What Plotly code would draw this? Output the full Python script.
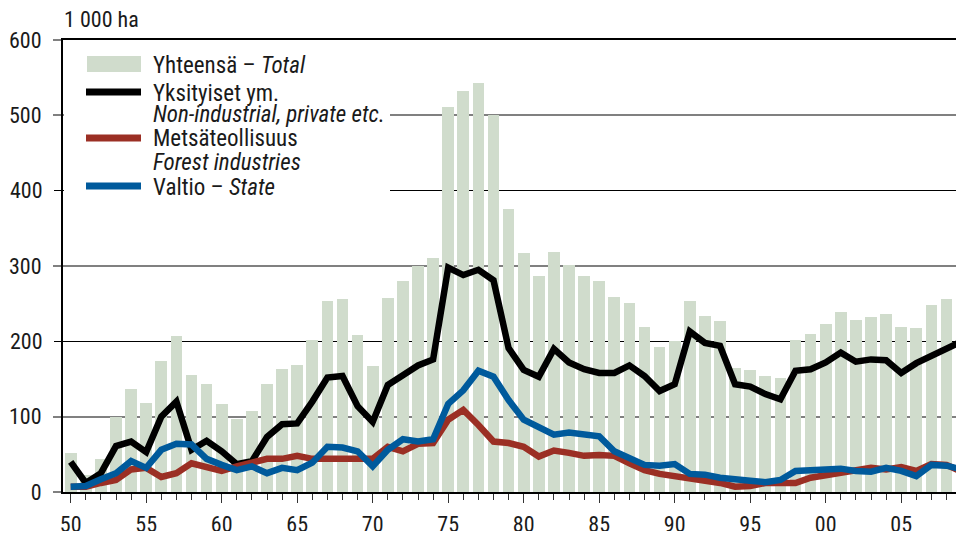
import plotly.graph_objects as go

# ---------------- data ----------------
years = list(range(1950, 2010))

total = [52, 22, 44, 100, 137, 118, 174, 207, 155, 143,
         117, 97, 107, 143, 163, 168, 202, 253, 256, 208,
         167, 258, 280, 300, 311, 511, 532, 543, 500, 376,
         317, 287, 319, 301, 287, 280, 259, 251, 219, 193,
         200, 253, 234, 227, 165, 162, 154, 151, 202, 210,
         223, 239, 228, 232, 236, 219, 218, 248, 256, 257]

private = [40, 12, 25, 61, 67, 53, 100, 120, 56, 68,
           54, 37, 41, 73, 90, 91, 120, 152, 154, 114,
           93, 142, 155, 168, 176, 298, 288, 295, 281, 191,
           162, 153, 190, 172, 163, 158, 158, 168, 154, 134,
           143, 213, 198, 194, 143, 140, 130, 123, 161, 163,
           172, 185, 173, 176, 175, 158, 171, 181, 190, 200]

forest = [7, 7, 12, 16, 30, 32, 20, 25, 38, 33,
          28, 34, 38, 44, 44, 48, 44, 44, 44, 44,
          44, 60, 54, 64, 65, 96, 109, 89, 67, 65,
          60, 47, 55, 52, 48, 49, 48, 38, 29, 24,
          21, 19, 17, 12, 7, 8, 12, 11, 12, 19,
          22, 25, 29, 32, 30, 33, 28, 37, 36, 27]

state = [7, 8, 17, 25, 41, 32, 56, 64, 63, 44,
         36, 29, 34, 25, 32, 29, 39, 60, 59, 54,
         34, 56, 70, 67, 70, 117, 135, 161, 153, 122,
         96, 87, 76, 79, 77, 74, 54, 45, 36, 35,
         37, 24, 23, 19, 16, 15, 13, 16, 28, 29,
         30, 31, 28, 27, 32, 28, 21, 36, 35, 30]

x_tickvals = [1950, 1955, 1960, 1965, 1970, 1975, 1980, 1985, 1990, 1995, 2000, 2005]
x_ticktext = ["50", "55", "60", "65", "70", "75", "80", "85", "90", "95", "00", "05"]
y_ticks_grey = [0, 100, 300, 500, 600]
y_ticks_black = [200, 400]

unit_label = "1 000 ha"
legend_rows = [
    ("bar", "#d0dccc", ["Yhteensä – <i>Total</i>"]),
    ("line", "#000000", ["Yksityiset ym.", "<i>Non-industrial, private etc.</i>"]),
    ("line", "#9b2f24", ["Metsäteollisuus", "<i>Forest industries</i>"]),
    ("line", "#005a9c", ["Valtio – <i>State</i>"]),
]

# ---------------- style ----------------
FONT = "Roboto Condensed, DejaVu Sans Condensed, Liberation Sans, sans-serif"
TXT = "#1a1a1a"
# the page body has an 8px default margin: the figure is drawn 8px right/down of the window
# corner and must fit inside the window minus that margin on both sides
OFF = 8
W, H = 964 - 2 * OFF, 539 - 2 * OFF
# plot area in window pixels
SX0, SX1, SY0, SY1 = 63, 956, 40, 492
ML, MR, MT, MB = SX0 - OFF, W - (SX1 - OFF), SY0 - OFF, H - (SY1 - OFF)
PW, PH = SX1 - SX0, SY1 - SY0
PX_PER_YEAR = 15.1
X0 = 1949.49
X1 = X0 + PW / PX_PER_YEAR


def px_x(px):
    return (px - SX0) / PW


def px_y(py):
    return (SY1 - py) / PH


fig = go.Figure()
fig.add_trace(go.Bar(x=years, y=total, name="Yhteensä – Total",
                     marker=dict(color="#d0dccc", line=dict(width=0)),
                     width=0.77, showlegend=False))
fig.add_trace(go.Scatter(x=years, y=private, mode="lines", name="Yksityiset ym. – Non-industrial, private etc.",
                         line=dict(color="#000000", width=6.5), showlegend=False))
fig.add_trace(go.Scatter(x=years, y=forest, mode="lines", name="Metsäteollisuus – Forest industries",
                         line=dict(color="#9b2f24", width=6.5), showlegend=False))
fig.add_trace(go.Scatter(x=years, y=state, mode="lines", name="Valtio – State",
                         line=dict(color="#005a9c", width=6.5), showlegend=False))

# invisible trace to activate the overlaid axis
fig.add_trace(go.Scatter(x=[years[0]], y=[0], yaxis="y2", mode="markers",
                         marker=dict(opacity=0), showlegend=False, hoverinfo="skip"))

fig.update_layout(
    width=W, height=H,
    margin=dict(l=ML, r=MR, t=MT, b=MB, autoexpand=False),
    paper_bgcolor="white", plot_bgcolor="white",
    font=dict(family=FONT, size=22, color=TXT),
    bargap=0,
    xaxis=dict(range=[X0, X1], tickvals=x_tickvals, ticktext=x_ticktext,
               ticks="outside", ticklen=9, tickwidth=1, tickcolor="#333333",
               minor=dict(dtick=1, tick0=1950, ticks="outside", ticklen=6, tickwidth=1, tickcolor="#333333"),
               showline=True, linecolor="#000000", linewidth=2, mirror=True,
               showgrid=False, zeroline=False, ticklabelstandoff=3, automargin=False,
               tickfont=dict(family=FONT, size=22, color=TXT)),
    yaxis=dict(range=[0, 600], tickvals=y_ticks_grey,
               ticks="outside", ticklen=8, tickwidth=1.5, tickcolor="#808080",
               showgrid=True, gridcolor="#808080", gridwidth=1.5,
               showline=True, linecolor="#000000", linewidth=2,
               zeroline=False, ticklabelstandoff=7, automargin=False,
               tickfont=dict(family=FONT, size=22, color=TXT)),
    yaxis2=dict(range=[0, 600], tickvals=y_ticks_black, overlaying="y", side="left", anchor="x",
                ticks="outside", ticklen=8, tickwidth=1, tickcolor="#000000",
                showgrid=True, gridcolor="#000000", gridwidth=1,
                showline=False, zeroline=False, ticklabelstandoff=7, automargin=False,
                tickfont=dict(family=FONT, size=22, color=TXT)),
    showlegend=False,
)

# unit label
fig.add_annotation(text=unit_label, xref="paper", yref="paper", x=px_x(62), y=px_y(20),
                   xanchor="left", yanchor="middle", showarrow=False,
                   font=dict(family=FONT, size=22, color=TXT))

# custom legend (white box, symbols, texts)
shapes = [dict(type="rect", xref="paper", yref="paper", layer="above",
               x0=px_x(64), x1=px_x(390), y0=px_y(200), y1=px_y(44),
               fillcolor="white", line=dict(width=0))]
row_y = [[64], [92, 114], [138, 161], [186]]
for (kind, color, lines), ys in zip(legend_rows, row_y):
    if kind == "bar":
        shapes.append(dict(type="rect", xref="paper", yref="paper", layer="above",
                           x0=px_x(87), x1=px_x(141), y0=px_y(ys[0] + 8), y1=px_y(ys[0] - 8),
                           fillcolor=color, line=dict(width=0)))
    else:
        shapes.append(dict(type="line", xref="paper", yref="paper", layer="above",
                           x0=px_x(86), x1=px_x(141), y0=px_y(ys[0]), y1=px_y(ys[0]),
                           line=dict(color=color, width=7)))
    for txt, yy in zip(lines, ys):
        fig.add_annotation(text=txt, xref="paper", yref="paper", x=px_x(151), y=px_y(yy + 1),
                           xanchor="left", yanchor="middle", showarrow=False,
                           font=dict(family=FONT, size=23, color=TXT))
fig.update_layout(shapes=shapes)

fig.write_html("out.html")
